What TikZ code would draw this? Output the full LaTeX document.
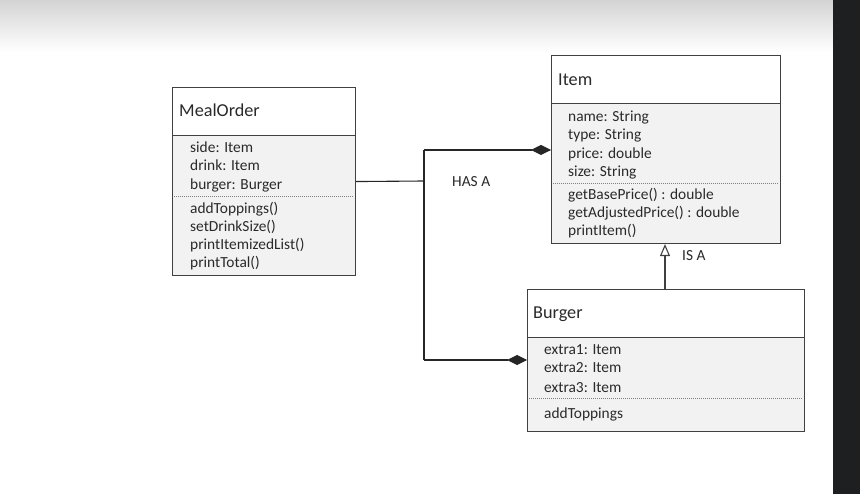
\documentclass[tikz,border=0pt]{standalone}
\usepackage{fontspec}
\setmainfont{Carlito}
\usetikzlibrary{arrows.meta}
\definecolor{txt}{HTML}{2A2A2A}
\definecolor{edge}{HTML}{404040}
\definecolor{body}{HTML}{F2F2F2}
\definecolor{strip}{HTML}{1E1F21}
\tikzset{
  classbox/.style={draw=edge, line width=1.1pt, fill=body, inner sep=0pt, anchor=north west},
  titlebox/.style={draw=edge, line width=1.1pt, fill=white, inner sep=0pt, anchor=north west},
  dotsep/.style={draw=gray, line width=0.8pt, dash pattern=on 1.2pt off 0.8pt},
  title/.style={anchor=base west, inner sep=0pt, text=txt, font=\fontsize{18.2}{20}\selectfont},
  member/.style={anchor=base west, inner sep=0pt, text=txt, font=\fontsize{15.4}{17}\selectfont},
  label/.style={anchor=base west, inner sep=0pt, text=txt, font=\fontsize{15.4}{17}\selectfont},
  wire/.style={draw=black!85, line width=1.1pt},
  compo/.style={wire, -{Diamond[length=20pt,width=10pt]}},
  inherit/.style={draw=edge, line width=1.1pt, -{Triangle[open,length=12pt,width=10pt,fill=white]}},
}
\begin{document}
\begin{tikzpicture}[x=1pt,y=-1pt]
\useasboundingbox (0,0) rectangle (860,494);
\fill[white] (0,0) rectangle (860,494);
\shade[top color=black!17, bottom color=white] (0,0) rectangle (833,52);
\fill[strip] (833,0) rectangle (860,494);

% MealOrder
\node[classbox, minimum width=183pt, minimum height=188pt] (meal) at (172,87) {};
\node[titlebox, minimum width=183pt, minimum height=48pt] (mealtitle) at (172,87) {};
\draw[dotsep] (174,196) -- (353,196);
\node[title] (mealname) at (179,117) {MealOrder};
\node[member] (m1) at (190,153) {side: Item};
\node[member] (m2) at (190,171) {drink: Item};
\node[member] (m3) at (190,190) {burger: Burger};
\node[member] (m4) at (190,214) {addToppings()};
\node[member] (m5) at (190,232) {setDrinkSize()};
\node[member] (m6) at (190,250) {printItemizedList()};
\node[member] (m7) at (190,268) {printTotal()};

% Item
\node[classbox, minimum width=229pt, minimum height=188pt] (item) at (551,55) {};
\node[titlebox, minimum width=229pt, minimum height=48pt] (itemtitle) at (551,55) {};
\draw[dotsep] (553,183) -- (778,183);
\node[title] (itemname) at (558,86) {Item};
\node[member] (i1) at (568,122) {name: String};
\node[member] (i2) at (568,140) {type: String};
\node[member] (i3) at (568,159) {price: double};
\node[member] (i4) at (568,177) {size: String};
\node[member] (i5) at (568,200) {getBasePrice() : double};
\node[member] (i6) at (568,218) {getAdjustedPrice() : double};
\node[member] (i7) at (568,236) {printItem()};

% Burger
\node[classbox, minimum width=277pt, minimum height=142pt] (burger) at (527,289) {};
\node[titlebox, minimum width=277pt, minimum height=48pt] (burgertitle) at (527,289) {};
\draw[dotsep] (529,398) -- (802,398);
\node[title] (burgername) at (533,319) {Burger};
\node[member] (b1) at (544,355) {extra1: Item};
\node[member] (b2) at (544,373) {extra2: Item};
\node[member] (b3) at (544,392) {extra3: Item};
\node[member] (b4) at (544,418) {addToppings};

% connectors
\coordinate (hub) at (424,181);
\coordinate (hubtop) at (424,150);
\coordinate (hubbot) at (424,360);
\coordinate (isx) at (665,0);
\draw[wire] (meal.east) -- (hub);
\draw[wire] (hubtop) -- (hubbot);
\draw[compo] (hubtop) -- (item.west |- hubtop);
\draw[compo] (hubbot) -- (burger.west |- hubbot);
\node[label] (hasa) at (452,187) {HAS A};

\draw[inherit] (burger.north -| isx) -- (item.south -| isx);
\node[label] (isa) at (682,261) {IS A};
\end{tikzpicture}
\end{document}
